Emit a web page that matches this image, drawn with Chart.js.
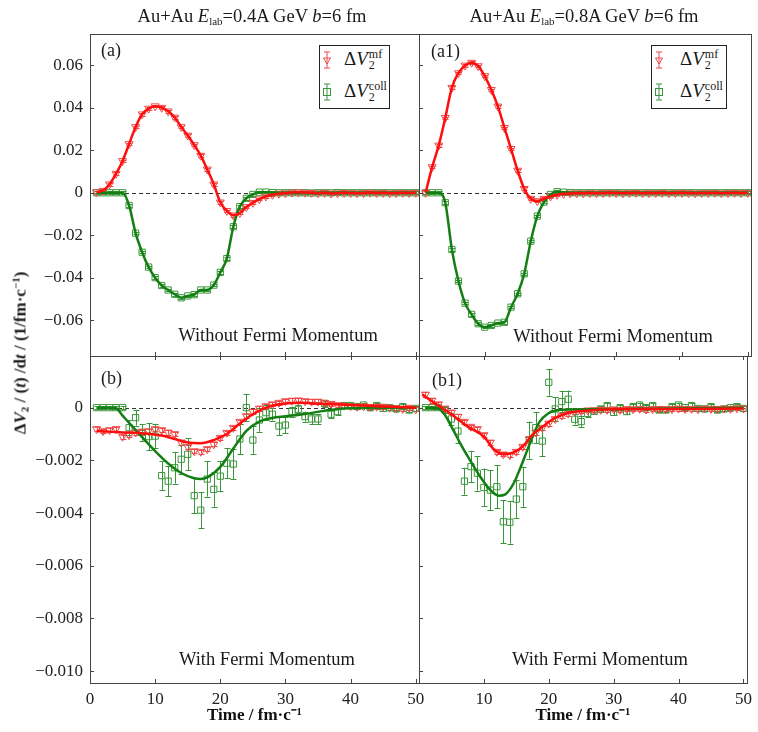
<!DOCTYPE html>
<html>
<head>
<meta charset="utf-8">
<script src="https://cdn.jsdelivr.net/npm/chart.js@4.4.1/dist/chart.umd.min.js"></script>
<style>
html,body{margin:0;padding:0;background:#fff;}
#wrap{position:relative;width:758px;height:732px;overflow:hidden;font-family:"Liberation Serif","Times New Roman",serif;color:#1a1a1a;}
#wrap canvas{position:absolute;left:0;top:0;}
.t{position:absolute;white-space:nowrap;transform:translate(-50%,-50%);}
.l{position:absolute;white-space:nowrap;transform:translate(0,-50%);}
.hd{font-size:18.5px;}
.hd sub{font-size:11px;vertical-align:-3px;}
.pl{font-size:18px;}
.ann{font-size:18.5px;}
.box{position:absolute;border:1px solid #222;background:#fff;}
.lg{font-size:19px;line-height:22px;}
.ss{display:inline-block;vertical-align:middle;font-size:12px;line-height:11px;margin-left:1px;position:relative;top:-1px;}
.ss span{display:block;}
.yt{position:absolute;left:20px;top:353px;white-space:nowrap;transform:translate(-50%,-50%) rotate(-90deg);font-weight:bold;font-size:17px;}
.yt sub{font-size:11px;vertical-align:-3px;}
.yt sup{font-size:11px;vertical-align:6px;}
</style>
</head>
<body>
<div id="wrap">
<canvas id="cA" width="758" height="732" style="width:758px;height:732px"></canvas>
<canvas id="cA1" width="758" height="732" style="width:758px;height:732px"></canvas>
<canvas id="cB" width="758" height="732" style="width:758px;height:732px"></canvas>
<canvas id="cB1" width="758" height="732" style="width:758px;height:732px"></canvas>

<div class="t hd" style="left:252px;top:16px;">Au+Au <i>E</i><sub>lab</sub>=0.4A GeV <i>b</i>=6 fm</div>
<div class="t hd" style="left:584px;top:16px;">Au+Au <i>E</i><sub>lab</sub>=0.8A GeV <i>b</i>=6 fm</div>

<div class="l pl" style="left:101px;top:50px;">(a)</div>
<div class="l pl" style="left:431px;top:51px;">(a1)</div>
<div class="l pl" style="left:101px;top:378px;">(b)</div>
<div class="l pl" style="left:432px;top:380px;">(b1)</div>

<div class="t ann" style="left:278px;top:335px;">Without Fermi Momentum</div>
<div class="t ann" style="left:613px;top:336px;">Without Fermi Momentum</div>
<div class="t ann" style="left:267px;top:659px;">With Fermi Momentum</div>
<div class="t ann" style="left:600px;top:659px;">With Fermi Momentum</div>

<div class="box" style="left:319px;top:45px;width:69px;height:62px;"></div>
<svg style="position:absolute;left:319px;top:50px;" width="16" height="20"><g stroke="#f04848" fill="none" stroke-width="1"><line x1="8" y1="2" x2="8" y2="18"/><line x1="5" y1="2" x2="11" y2="2"/><line x1="5" y1="18" x2="11" y2="18"/><polygon points="4.5,8 11.5,8 8,14"/></g></svg>
<svg style="position:absolute;left:319px;top:82px;" width="16" height="20"><g stroke="#3a963a" fill="none" stroke-width="1"><line x1="8" y1="2" x2="8" y2="18"/><line x1="5" y1="2" x2="11" y2="2"/><line x1="5" y1="18" x2="11" y2="18"/><rect x="4.5" y="6.5" width="7" height="7"/></g></svg>
<div class="l lg" style="left:344px;top:60px;">Δ<i>V</i><span class="ss"><span>mf</span><span>2</span></span></div>
<div class="l lg" style="left:344px;top:92px;">Δ<i>V</i><span class="ss"><span>coll</span><span>2</span></span></div>

<div class="box" style="left:651px;top:45px;width:74px;height:62px;"></div>
<svg style="position:absolute;left:651px;top:50px;" width="16" height="20"><g stroke="#f04848" fill="none" stroke-width="1"><line x1="8" y1="2" x2="8" y2="18"/><line x1="5" y1="2" x2="11" y2="2"/><line x1="5" y1="18" x2="11" y2="18"/><polygon points="4.5,8 11.5,8 8,14"/></g></svg>
<svg style="position:absolute;left:651px;top:82px;" width="16" height="20"><g stroke="#3a963a" fill="none" stroke-width="1"><line x1="8" y1="2" x2="8" y2="18"/><line x1="5" y1="2" x2="11" y2="2"/><line x1="5" y1="18" x2="11" y2="18"/><rect x="4.5" y="6.5" width="7" height="7"/></g></svg>
<div class="l lg" style="left:680px;top:60px;">Δ<i>V</i><span class="ss"><span>mf</span><span>2</span></span></div>
<div class="l lg" style="left:680px;top:92px;">Δ<i>V</i><span class="ss"><span>coll</span><span>2</span></span></div>

<div class="yt">Δ<i>V</i><sub>2</sub> / (<i>t</i>) /d<i>t</i> / (1/fm·c<sup>−1</sup>)</div>
</div>

<script>
// ---------- data ----------
const time = [1,2,3,4,5,6,7,8,9,10,11,12,13,14,15,16,17,18,19,20,21,22,23,24,25,26,27,28,29,30,31,32,33,34,35,36,37,38,39,40,41,42,43,44,45,46,47,48,49,50];

// (a) Au+Au 0.4A GeV, without Fermi momentum
const mfA = [0.0003,0.001,0.004,0.009,0.015,0.023,0.031,0.037,0.0397,0.0408,
  0.0401,0.0384,0.0355,0.031,0.027,0.0225,0.0175,0.011,0.004,-0.0045,
  -0.0085,-0.0106,-0.0095,-0.0067,-0.0047,-0.003,-0.0017,-0.0009,-0.0004,-0.0002,
  0.0001,0.0002,0.0001,0,-0.0002,0,-0.0003,-0.0002,0,-0.0001,
  -0.0002,-0.0001,0.0001,-0.0001,0,-0.0002,-0.0001,0,-0.0001,0];
const collA = [0,0,0,0,0,-0.006,-0.019,-0.028,-0.035,-0.040,
  -0.0437,-0.0458,-0.0478,-0.0495,-0.0486,-0.048,-0.0458,-0.0458,-0.0435,-0.0375,
  -0.031,-0.016,-0.0065,-0.0026,-0.0008,0.0003,0.0003,0.0001,0,0,
  0,0,0,-0.0001,0,0,0,0.0001,0,0,
  0,0,0,0,0,0,0,0,0,0];

// (a1) Au+Au 0.8A GeV, without Fermi momentum
const mfA1 = [0,0.0121,0.0223,0.0353,0.0495,0.0564,0.0600,0.0613,0.0597,0.055,
  0.0485,0.0407,0.0306,0.0207,0.0105,0.0019,-0.0028,-0.0039,-0.0028,-0.0017,
  -0.0009,-0.0005,-0.0003,-0.0002,-0.0002,-0.0001,-0.0002,-0.0001,0,-0.0001,
  -0.0002,-0.0001,0,-0.0002,-0.0001,-0.0001,0,-0.0002,-0.0001,0,
  -0.0001,-0.0002,-0.0001,-0.0001,0,-0.0002,-0.0001,0,-0.0001,0];
const collA1 = [0,0,0,-0.0047,-0.0267,-0.0416,-0.052,-0.0573,-0.0617,-0.0633,
  -0.0625,-0.0614,-0.061,-0.0539,-0.0476,-0.0382,-0.0228,-0.011,-0.0044,-0.0008,
  0.0005,0.0003,0.0001,0,0,0,0,0,0,0,
  0,0,0,0,0,0,0,0,0,0,
  0,0,0,0,0,0,0,0,0,0];
const errTop = 0.0006;

// (b) Au+Au 0.4A GeV, with Fermi momentum
const mfB = [-0.00081,-0.00089,-0.00085,-0.00081,-0.0011,-0.00104,-0.00094,-0.00091,-0.00089,-0.00081,
  -0.00085,-0.00094,-0.001,-0.00132,-0.00148,-0.00165,-0.00167,-0.00157,-0.00139,-0.00114,
  -0.00095,-0.00076,-0.00053,-0.00032,-0.00015,-0.00003,0.00006,0.00013,0.00019,0.00025,
  0.00027,0.00028,0.00025,0.00023,0.00023,0.00019,0.00015,0.0001,0.00008,0.00006,
  0.00004,0.00005,0.00003,0.00004,0.00004,0,-0.00002,-0.00004,0,-0.00006];
const collB = [0,0,0,0,0,-0.00076,-0.00038,-0.00094,-0.0011,-0.00108,
  -0.00258,-0.00279,-0.00228,-0.00196,-0.00177,-0.00334,-0.00389,-0.00271,-0.0031,-0.0026,
  -0.00211,-0.00214,-0.00119,0,-0.00123,-0.00047,-0.00019,-0.00025,-0.0007,-0.00066,
  -0.00015,-0.00006,-0.00034,-0.00043,-0.00043,0.00016,-0.00025,-0.00015,0.00008,0.00008,
  0.00004,0.0001,0,0.00008,-0.00003,0,-0.00005,0.00004,-0.00009,-0.00003];
const errCollB = [0.00005,0.00005,0.00005,0.00005,0.00005,0.00028,0.0003,0.00032,0.00052,0.00047,
  0.00055,0.00057,0.0006,0.00054,0.00061,0.00066,0.00068,0.00067,0.00066,0.00058,
  0.00057,0.00058,0.00058,0.00052,0.00052,0.00044,0.00029,0.00024,0.00035,0.00032,
  0.00019,0.00015,0.00019,0.00019,0.00019,0.00013,0.00015,0.00012,0.0001,0.0001,
  0.00009,0.00009,0.00009,0.00009,0.00009,0.00009,0.00009,0.00009,0.00009,0.00009];
const fitMfBT = [1,3,5,7,9,11,13,15,17,19,21,23,25,27,29,32,35,40,45,50];
const fitMfB = [-0.00089,-0.00091,-0.00094,-0.00095,-0.00099,-0.00106,-0.00119,-0.00132,-0.00135,-0.00123,
  -0.001,-0.0006,-0.00025,0,0.00013,0.00019,0.00016,0.0001,0.00004,0];
const fitCollBT = [1,3,4,5,6,8,10,12,14,16,17,18,20,22,24,26,28,30,33,36,39,45,50];
const fitCollB = [0,0,-0.00002,-0.0003,-0.00058,-0.00112,-0.00165,-0.00212,-0.00248,-0.00268,
  -0.00271,-0.00265,-0.00225,-0.00155,-0.00088,-0.00053,-0.00039,-0.00033,-0.00024,-0.00012,
  -0.00003,0,0];

// (b1) Au+Au 0.8A GeV, with Fermi momentum
const mfB1 = [0.0005,0.00027,0.00013,-0.00003,-0.00018,-0.00034,-0.00053,-0.00072,-0.00081,-0.00104,
  -0.00132,-0.00167,-0.00177,-0.0018,-0.00167,-0.00148,-0.00119,-0.00094,-0.00076,-0.0006,
  -0.00043,-0.0003,-0.00022,-0.00015,-0.00013,-0.0001,-0.0001,-0.00008,-0.00008,-0.00006,
  -0.00008,-0.00005,-0.00006,-0.00004,-0.00007,-0.00005,-0.00004,-0.00006,-0.00005,-0.00003,
  -0.00005,-0.00004,-0.00006,-0.00003,-0.00004,-0.00005,-0.00003,-0.00004,-0.00002,-0.00003];
const collB1 = [0,0,0,-0.00009,-0.00043,-0.00089,-0.00279,-0.00224,-0.00249,-0.00303,
  -0.00313,-0.003,-0.00433,-0.00435,-0.00347,-0.003,-0.00123,-0.00076,-0.00127,0.00096,
  -0.00005,0.00023,0.00032,-0.00044,-0.00053,-0.00022,-0.00013,-0.00005,0.00008,-0.00018,
  0,-0.00015,0.00004,0.0001,0,0.00008,-0.00009,-0.00009,0.00004,0.0001,
  0,0.00008,-0.00003,-0.00005,0.00004,-0.00009,-0.00005,0,0.00004,-0.00003];
const errCollB1 = [0.00005,0.00005,0.00005,0.0001,0.00022,0.00047,0.00051,0.0006,0.00066,0.00072,
  0.00076,0.00082,0.00082,0.00081,0.00071,0.00076,0.0007,0.0006,0.00058,0.00051,
  0.00044,0.00041,0.00033,0.0002,0.00022,0.00012,0.00012,0.00011,0.0001,0.0001,
  0.0001,0.0001,0.00009,0.00009,0.00009,0.00009,0.00009,0.00009,0.00009,0.00009,
  0.00008,0.00008,0.00008,0.00008,0.00008,0.00008,0.00008,0.00008,0.00008,0.00008];
const errMfBottom = 0.00008;
const fitMfB1T = [0.5,2.5,5,7.5,10,11.6,13.1,14.6,16.1,17.6,19.1,20.6,22.7,25.2,30,40,50];
const fitMfB1 = [0.0005,0.00016,-0.00025,-0.00072,-0.0011,-0.0016,-0.00177,-0.0017,-0.00144,-0.001,
  -0.00072,-0.00044,-0.00022,-0.00013,-0.00006,-0.00005,-0.00003];
const fitCollB1T = [1,3,4,5,6.5,8,9.6,11,12.3,13.3,14.6,15.6,16.6,17.6,18.6,19.9,21.1,23,28,40,50];
const fitCollB1 = [0,-0.00003,-0.00028,-0.00072,-0.00142,-0.00205,-0.00268,-0.00313,-0.00334,-0.00329,
  -0.00287,-0.0023,-0.00167,-0.00104,-0.00053,-0.00022,-0.00011,-0.00007,-0.00006,-0.00003,0];

// ticks
const xTicks = [0,10,20,30,40,50];
const xLabels = ['0','10','20','30','40','50'];
const topYTicks = [0.06,0.04,0.02,0,-0.02,-0.04,-0.06];
const topYLabels = ['0.06','0.04','0.02','0','\u22120.02','\u22120.04','\u22120.06'];
const botYTicks = [0,-0.002,-0.004,-0.006,-0.008,-0.010];
const botYLabels = ['0','\u22120.002','\u22120.004','\u22120.006','\u22120.008','\u22120.010'];
const xTitle = 'Time / fm\u00b7c\u207b\u00b9';

// ---------- styles ----------
const RED_LINE = '#ff0d0d', GREEN_LINE = '#137f13';
const RED_PT = '#f04848', GREEN_PT = '#3a963a';
const FONT = '"Liberation Serif","Times New Roman",serif';

function pts(xs, ys){ return xs.map((x,i)=>({x:x, y:ys[i]})); }
function lineDs(xs, ys, color){
  return {data:pts(xs,ys), showLine:true, borderColor:color, borderWidth:2.5, pointRadius:0,
    cubicInterpolationMode:'monotone', fill:false, order:0};
}
function ptDs(xs, ys, style, color, errs){
  return {data:pts(xs,ys), showLine:false, pointStyle:style, pointRotation: style==='triangle'?180:0,
    pointRadius: style==='triangle'?4.6:4.4, pointBorderColor:color, pointBackgroundColor:'rgba(0,0,0,0)',
    pointBorderWidth:1, errors:errs, errColor:color, order:1};
}

const panelPlugin = {
  id:'panel',
  beforeDatasetsDraw(chart){
    const {ctx, chartArea:a, scales:{x,y}} = chart;
    ctx.save();
    ctx.beginPath(); ctx.rect(a.left, a.top, a.right-a.left, a.bottom-a.top); ctx.clip();
    const y0 = Math.round(y.getPixelForValue(0))+0.5;
    ctx.strokeStyle='#333'; ctx.lineWidth=1; ctx.setLineDash([4,3]);
    ctx.beginPath(); ctx.moveTo(a.left,y0); ctx.lineTo(a.right,y0); ctx.stroke();
    ctx.setLineDash([]);
    chart.data.datasets.forEach(ds=>{
      if(ds.errors===undefined) return;
      ctx.strokeStyle = ds.errColor; ctx.lineWidth = 1;
      ds.data.forEach((p,j)=>{
        const e = Array.isArray(ds.errors) ? ds.errors[j] : ds.errors;
        const px = Math.round(x.getPixelForValue(p.x))+0.5;
        const t = y.getPixelForValue(p.y+e), b = y.getPixelForValue(p.y-e);
        ctx.beginPath();
        ctx.moveTo(px,t); ctx.lineTo(px,b);
        ctx.moveTo(px-3,Math.round(t)+0.5); ctx.lineTo(px+3,Math.round(t)+0.5);
        ctx.moveTo(px-3,Math.round(b)+0.5); ctx.lineTo(px+3,Math.round(b)+0.5);
        ctx.stroke();
      });
    });
    ctx.restore();
  },
  afterDraw(chart, args, opts){
    const {ctx, chartArea:a, scales:{x,y}} = chart;
    ctx.save();
    ctx.strokeStyle='#444'; ctx.lineWidth=1;
    ctx.strokeRect(Math.round(a.left)+0.5, Math.round(a.top)+0.5, Math.round(a.right-a.left), Math.round(a.bottom-a.top));
    ctx.beginPath();
    y.ticks.forEach(t=>{
      const py = Math.round(y.getPixelForValue(t.value))+0.5;
      ctx.moveTo(a.left, py); ctx.lineTo(a.left+4, py);
    });
    x.ticks.forEach(t=>{
      const px = Math.round(x.getPixelForValue(t.value))+0.5;
      ctx.moveTo(px, a.bottom); ctx.lineTo(px, a.bottom-4);
      if(opts.topTicks){ ctx.moveTo(px, a.top); ctx.lineTo(px, a.top+4); }
    });
    ctx.stroke();
    ctx.restore();
  }
};

function makePanel(id, area, cfg){
  const W = 758, H = 732;
  return new Chart(document.getElementById(id), {
    type:'scatter',
    data:{datasets:cfg.datasets},
    options:{
      responsive:false, animation:false, devicePixelRatio:1,
      events:[],
      layout:{padding:{left:0, top:area.t, right:W-area.r, bottom:0}},
      plugins:{legend:{display:false}, tooltip:{enabled:false}, panel:{topTicks:cfg.topTicks}},
      scales:{
        x:{type:'linear', min:0, max:50.5,
          grid:{display:false, drawTicks:false}, border:{display:false},
          afterBuildTicks: s=>{ s.ticks = xTicks.map(v=>({value:v})); },
          afterFit: s=>{ s.height = H-area.b; },
          ticks:{display:cfg.showX, padding:6, color:'#222', font:{family:FONT, size:17},
            maxRotation:0, autoSkip:false,
            callback:(v,i)=> (cfg.hideX0 && i===0) ? '' : xLabels[i]},
          title:{display:cfg.showX, text:xTitle, color:'#111', font:{family:FONT, size:17, weight:'bold'}, padding:{top:0,bottom:6}}
        },
        y:{type:'linear', min:cfg.yMin, max:cfg.yMax,
          grid:{display:false, drawTicks:false}, border:{display:false},
          afterBuildTicks: s=>{ s.ticks = cfg.yTicks.map(v=>({value:v})); },
          afterFit: s=>{ s.width = area.l; },
          ticks:{display:cfg.showY, padding:7, color:'#222', font:{family:FONT, size:17},
            autoSkip:false, callback:(v,i)=> cfg.yLabels[i]}
        }
      }
    },
    plugins:[panelPlugin]
  });
}

const TOP = {yMin:-0.0769, yMax:0.0748, yTicks:topYTicks, yLabels:topYLabels};
const BOT = {yMin:-0.01045, yMax:0.00196, yTicks:botYTicks, yLabels:botYLabels};

makePanel('cA', {l:90,t:34,r:419,b:356}, Object.assign({}, TOP, {
  showY:true, showX:false, topTicks:false,
  datasets:[ lineDs(time, mfA, RED_LINE), lineDs(time, collA, GREEN_LINE),
    ptDs(time, mfA, 'triangle', RED_PT, errTop), ptDs(time, collA, 'rect', GREEN_PT, errTop) ]
}));
makePanel('cA1', {l:419,t:34,r:751,b:356}, Object.assign({}, TOP, {
  showY:false, showX:false, topTicks:false,
  datasets:[ lineDs(time, mfA1, RED_LINE), lineDs(time, collA1, GREEN_LINE),
    ptDs(time, mfA1, 'triangle', RED_PT, errTop), ptDs(time, collA1, 'rect', GREEN_PT, errTop) ]
}));
makePanel('cB', {l:90,t:356,r:419,b:683}, Object.assign({}, BOT, {
  showY:true, showX:true, topTicks:true,
  datasets:[ lineDs(fitMfBT, fitMfB, RED_LINE), lineDs(fitCollBT, fitCollB, GREEN_LINE),
    ptDs(time, mfB, 'triangle', RED_PT, errMfBottom), ptDs(time, collB, 'rect', GREEN_PT, errCollB) ]
}));
makePanel('cB1', {l:419,t:356,r:751,b:683}, Object.assign({}, BOT, {
  showY:false, showX:true, hideX0:true, topTicks:true,
  datasets:[ lineDs(fitMfB1T, fitMfB1, RED_LINE), lineDs(fitCollB1T, fitCollB1, GREEN_LINE),
    ptDs(time, mfB1, 'triangle', RED_PT, errMfBottom), ptDs(time, collB1, 'rect', GREEN_PT, errCollB1) ]
}));
</script>
</body>
</html>
